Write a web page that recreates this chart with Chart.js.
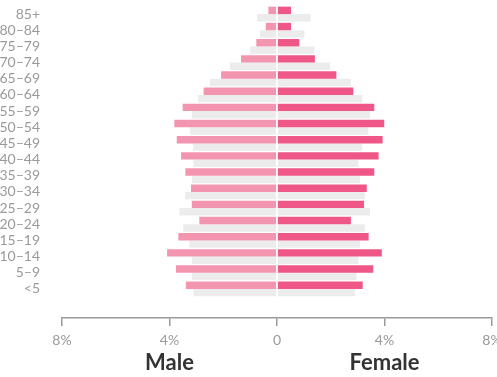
<!DOCTYPE html>
<html>
<head>
<meta charset="utf-8">
<script src="https://cdn.jsdelivr.net/npm/chart.js@4"></script>
<style>
  html, body { margin: 0; padding: 0; background: #ffffff; }
  #wrap { width: 497px; height: 377px; position: relative; }
</style>
</head>
<body>
<div id="wrap"><canvas id="c"></canvas></div>
<script>
const ageGroups = ['85+','80–84','75–79','70–74','65–69','60–64','55–59','50–54','45–49','40–44','35–39','30–34','25–29','20–24','15–19','10–14','5–9','<5'];
const maleShare   = [0.32,0.42,0.77,1.34,2.08,2.73,3.51,3.82,3.73,3.57,3.41,3.20,3.17,2.89,3.67,4.09,3.76,3.39];
const femaleShare = [0.52,0.52,0.83,1.41,2.21,2.84,3.62,3.99,3.93,3.78,3.62,3.34,3.24,2.75,3.41,3.90,3.58,3.19];
const maleRef     = [0.74,0.63,1.00,1.75,2.49,2.94,3.17,3.24,3.12,3.11,3.17,3.42,3.63,3.49,3.26,3.17,3.17,3.11];
const femaleRef   = [1.25,1.02,1.39,1.97,2.75,3.17,3.46,3.40,3.17,3.03,3.09,3.27,3.46,3.27,3.09,3.03,2.96,2.90];
const xTicks = [-8, -4, 0, 4, 8];
const sideTitles = { '-4': 'Male', '4': 'Female' };

const toPoints = (arr, sign) => arr.map((v, i) => ({ x: sign * v, y: i }));

const FONT = 'Lato, "Open Sans", sans-serif';

new Chart(document.getElementById('c'), {
  type: 'bar',
  data: {
    datasets: [
      { label: 'Male', data: toPoints(maleShare, -1), backgroundColor: '#F495B0', stack: 'a' },
      { label: 'Female', data: toPoints(femaleShare, 1), backgroundColor: '#EE5787', stack: 'a' },
      { label: 'Male ref', data: toPoints(maleRef, -1), backgroundColor: '#ECECEC', stack: 'b' },
      { label: 'Female ref', data: toPoints(femaleRef, 1), backgroundColor: '#ECECEC', stack: 'b' }
    ]
  },
  options: {
    indexAxis: 'y',
    responsive: true,
    maintainAspectRatio: false,
    animation: false,
    layout: { padding: { top: 6, right: 5, bottom: 0, left: 0 } },
    datasets: { bar: { categoryPercentage: 0.92, barPercentage: 1.0, borderWidth: 0 } },
    plugins: { legend: { display: false }, tooltip: { enabled: false } },
    scales: {
      y: {
        type: 'linear',
        reverse: true,
        offset: false,
        bounds: 'data',
        min: -0.5,
        max: 18.8,
        stacked: true,
        afterBuildTicks: (scale) => {
          scale.ticks = ageGroups.map((_, i) => ({ value: i }));
        },
        afterFit: (scale) => { scale.width = 62; scale.paddingTop = 0; scale.paddingBottom = 0; },
        ticks: {
          stepSize: 1,
          includeBounds: false,
          autoSkip: false,
          padding: 14,
          color: '#9a9a9a',
          font: { family: FONT, size: 14 },
          callback: (v) => ageGroups[v] ?? ''
        },
        grid: { display: false },
        border: { display: false }
      },
      x: {
        type: 'linear',
        min: -8,
        max: 8,
        stacked: true,
        position: 'bottom',
        weight: 0,
        afterBuildTicks: (scale) => { scale.ticks = xTicks.map(v => ({ value: v })); },
        afterFit: (scale) => { scale.paddingLeft = 0; scale.paddingRight = 0; scale.height = 30; },
        ticks: {
          padding: 6,
          color: '#9a9a9a',
          font: { family: FONT, size: 14 },
          maxRotation: 0,
          callback: (v) => v === 0 ? '0' : Math.abs(v) + '%'
        },
        grid: {
          z: 1,
          drawOnChartArea: true,
          drawTicks: true,
          tickLength: 8,
          tickColor: '#999999',
          tickWidth: 1.5,
          lineWidth: 1.5,
          color: (ctx) => (ctx.tick && ctx.tick.value === 0) ? '#ffffff' : 'rgba(0,0,0,0)'
        },
        border: { display: true, color: '#999999', width: 1.5, z: 2 }
      },
      x2: {
        type: 'linear',
        min: -8,
        max: 8,
        position: 'bottom',
        weight: 1,
        afterBuildTicks: (scale) => { scale.ticks = xTicks.map(v => ({ value: v })); },
        afterFit: (scale) => { scale.paddingLeft = 0; scale.paddingRight = 0; scale.height = 29; },
        ticks: {
          padding: 2,
          color: '#333333',
          maxRotation: 0,
          font: { family: FONT, size: 22, weight: 'bold' },
          callback: (v) => sideTitles[String(v)] ?? ''
        },
        grid: { display: false, drawTicks: false },
        border: { display: false }
      }
    }
  }
});
</script>
</body>
</html>
